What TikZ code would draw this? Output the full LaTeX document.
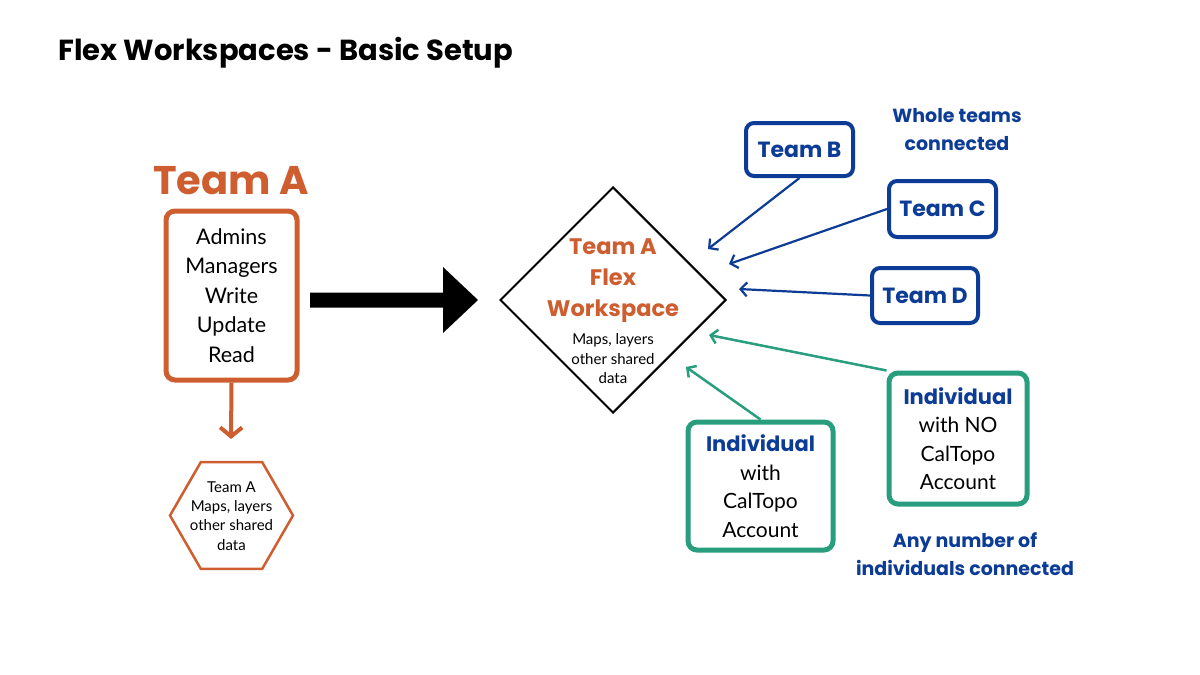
\documentclass[tikz,border=0pt]{standalone}
\usepackage{fontspec}
\setmainfont{Lato}
\newfontfamily\headfont{Poppins}
\usetikzlibrary{arrows.meta,shapes.geometric}
\definecolor{tOrange}{RGB}{206,94,48}
\definecolor{tBlue}{RGB}{12,60,150}
\definecolor{tGreen}{RGB}{40,158,126}
\tikzset{
  hd/.style={font=\headfont\bfseries},
  teambox/.style={draw=tBlue, line width=4, rounded corners=8, text=tBlue, inner sep=0,
     font=\headfont\bfseries\fontsize{22}{26}\selectfont},
  indbox/.style={draw=tGreen, line width=5, rounded corners=9, inner sep=0, align=center,
     font=\fontsize{21}{28.5}\selectfont},
  bluearr/.style={draw=tBlue, line width=2.2, -{Straight Barb[length=6.5pt,width=14pt]}},
  greenarr/.style={draw=tGreen, line width=2.5, -{Straight Barb[length=6.5pt,width=14pt]}},
}
\begin{document}
\begin{tikzpicture}[x=1pt,y=-1pt]
\useasboundingbox[fill=white] (0,0) rectangle (1200,675);

% title
\node[hd, anchor=base west, inner sep=0, font=\headfont\bfseries\fontsize{29}{33}\selectfont] (title) at (58,60) {Flex Workspaces - Basic Setup};

% Team A
\node[inner sep=0, text=tOrange, font=\headfont\bfseries\fontsize{40}{44}\selectfont, anchor=base] (teamA) at (231,194) {Team A};
\node[draw=tOrange, line width=5, rounded corners=9, minimum width=131, minimum height=169, inner sep=0,
      align=center, font=\fontsize{21.5}{29.5}\selectfont] (boxA) at (231.5,295.5)
      {Admins\\Managers\\Write\\Update\\Read};
\coordinate (aEnd) at (231,439);
\draw[draw=tOrange, line width=4, -{Straight Barb[length=9pt,width=22pt]}] (boxA.south) -- (aEnd);

% hexagon
\node[regular polygon, regular polygon sides=6, minimum size=123, draw=tOrange, line width=2.5, inner sep=0] (hex) at (231.5,515.5) {};
\node[align=center, inner sep=0, font=\fontsize{15}{19.3}\selectfont] (hext) at (231.5,516) {Team A\\Maps, layers\\other shared\\data};

% big arrow
\coordinate (bigS) at (310,300);
\coordinate (bigE) at (478,300);
\fill[black] (310,292.5) -- (443,292.5) -- (443,267) -- (bigE) -- (443,333) -- (443,307.5) -- (310,307.5) -- cycle;

% diamond
\node[diamond, draw=black, line width=2, minimum width=226, minimum height=226, inner sep=0] (dia) at (613,300) {};
\node[align=center, inner sep=0, text=tOrange, font=\headfont\bfseries\fontsize{22.5}{31}\selectfont] (dtitle) at (613,281) {Team A\\Flex\\Workspace};
\node[align=center, inner sep=0, font=\fontsize{15}{19.5}\selectfont] (dsub) at (613,359) {Maps, layers\\other shared\\data};

% teams
\node[teambox, minimum width=107, minimum height=53] (tB) at (799.5,149.5) {Team B};
\node[teambox, minimum width=107, minimum height=56] (tC) at (942.5,209) {Team C};
\node[teambox, minimum width=106, minimum height=55] (tD) at (925,295.5) {Team D};
\node[align=center, inner sep=0, text=tBlue, font=\headfont\bfseries\fontsize{19}{28}\selectfont] (whole) at (957,130) {Whole teams\\connected};

\coordinate (eB) at (708,249);
\coordinate (eC) at (729,264);
\coordinate (eD) at (739,289);
\draw[bluearr] (tB.south) -- (eB);
\draw[bluearr] (tC.west) -- (eC);
\draw[bluearr] (tD.west) -- (eD);

% individuals
\node[indbox, minimum width=145, minimum height=128] (iL) at (760.5,486) {{\headfont\bfseries\color{tBlue}Individual}\\with\\CalTopo\\Account};
\node[indbox, minimum width=138, minimum height=131] (iR) at (958,438.5) {{\headfont\bfseries\color{tBlue}Individual}\\with NO\\CalTopo\\Account};
\node[align=center, inner sep=0, text=tBlue, font=\headfont\bfseries\fontsize{19}{28}\selectfont] (anyn) at (965,554) {Any number of\\individuals connected};

\coordinate (eR) at (709,335);
\coordinate (eL) at (686,367);
\draw[greenarr] (iR.north west) -- (eR);
\draw[greenarr] (iL.north) -- (eL);
\end{tikzpicture}
\end{document}
